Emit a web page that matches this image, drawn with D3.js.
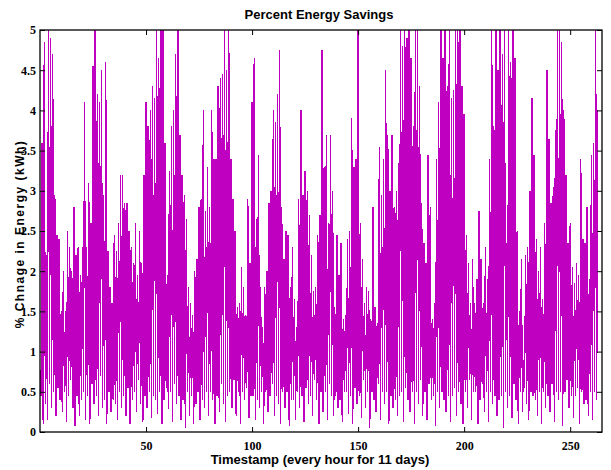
<!DOCTYPE html>
<html>
<head>
<meta charset="utf-8">
<script src="https://cdn.jsdelivr.net/npm/d3@7/dist/d3.min.js"></script>
<style>
  html, body { margin: 0; padding: 0; background: #fff; }
  svg { display: block; }
</style>
</head>
<body>
<div id="chart"></div>
<script>
// peak value read for each hour (1..263), values above 5 get clipped by the axes
const hourPeaks = [
  3.6, 4.85, 2.2, 5.2, 4.9, 4.7, 2.95, 2.45, 2.4, 1.5,
  2.0, 1.5, 2.5, 2.3, 2.0, 2.8, 2.2, 2.3, 1.95, 2.3,
  4.1, 2.3, 3.1, 2.6, 4.55, 5.2, 4.2, 4.1, 4.5, 2.95,
  4.6, 2.25, 1.8, 1.6, 2.45, 2.25, 2.6, 3.2, 3.2, 2.85,
  2.85, 2.5, 2.3, 2.1, 2.6, 1.95, 2.5, 2.1, 3.2, 4.1,
  3.8, 4.0, 4.3, 4.15, 5.2, 4.65, 5.2, 5.2, 3.6, 1.95,
  3.25, 3.8, 4.0, 4.7, 5.2, 3.7, 3.2, 2.95, 2.65, 1.8,
  1.6, 1.45, 2.0, 2.15, 2.8, 2.9, 4.0, 2.75, 3.3, 2.8,
  4.0, 3.4, 3.4, 4.3, 4.4, 4.45, 5.2, 4.5, 5.2, 3.4,
  2.9, 2.5, 1.55, 1.6, 2.05, 1.8, 1.45, 2.9, 2.1, 4.1,
  4.65, 2.65, 3.45, 1.8, 1.3, 1.8, 2.0, 2.85, 3.0, 4.0,
  3.85, 4.2, 4.75, 2.8, 2.15, 2.5, 2.45, 1.8, 2.3, 1.65,
  1.3, 2.9, 4.0, 2.95, 3.25, 3.0, 2.7, 2.2, 1.75, 1.8,
  2.45, 2.7, 4.75, 3.3, 3.7, 2.6, 3.7, 3.0, 1.55, 2.45,
  1.95, 2.35, 1.4, 1.45, 2.4, 2.5, 3.9, 3.3, 3.4, 5.2,
  2.6, 2.15, 1.6, 1.8, 1.75, 1.4, 2.8, 1.55, 1.35, 3.55,
  2.95, 3.4, 4.5, 3.7, 3.0, 3.7, 2.8, 3.0, 3.35, 5.2,
  4.8, 5.2, 4.9, 5.2, 4.65, 3.8, 5.2, 5.2, 4.3, 2.85,
  2.35, 2.1, 3.45, 2.8, 1.4, 1.6, 3.4, 4.1, 5.2, 4.65,
  5.2, 4.3, 5.2, 4.15, 4.25, 5.2, 5.2, 5.2, 4.3, 3.95,
  2.45, 2.1, 1.6, 2.15, 1.6, 1.9, 2.75, 2.15, 1.6, 2.3,
  1.9, 3.4, 5.2, 3.8, 5.2, 4.5, 5.2, 4.7, 5.2, 2.35,
  5.2, 4.6, 5.2, 4.65, 2.5, 1.5, 2.15, 0.9, 2.2, 2.3,
  3.0, 4.15, 3.45, 2.4, 2.0, 2.3, 1.65, 2.6, 4.5, 3.65,
  2.85, 3.05, 3.75, 5.2, 5.2, 4.85, 4.0, 3.2, 2.35, 2.6,
  2.05, 1.85, 2.1, 1.95, 3.4, 2.4, 2.35, 2.8, 1.9, 3.45,
  3.6, 5.2, 4.0
];

// dips read between the hours (half-hour samples)
const halfHourDips = [
  0.45, 0.1, 0.35, 0.15, 0.6, 0.3, 0.5, 0.2, 0.55, 0.4,
  0.25, 0.5, 0.12, 0.45, 0.65, 0.3, 0.08, 0.45, 0.2, 0.4,
  0.5, 0.15, 0.45, 0.1, 0.6, 0.35, 0.45, 0.2, 0.7, 0.3,
  0.4, 0.1, 0.5, 0.25, 0.4, 0.35, 0.15, 0.5, 0.3, 0.45,
  0.2, 0.55, 0.1, 0.4, 0.5, 0.25, 0.65, 0.35, 0.12, 0.45,
  0.3, 0.5, 0.18, 0.45, 0.4, 0.22, 0.5, 0.1, 0.4, 0.55,
  0.28, 0.5, 0.12, 0.6, 0.35, 0.45, 0.15, 0.4, 0.05, 0.5,
  0.2, 0.45, 0.1, 0.35, 0.5, 0.15, 0.4, 0.3, 0.5, 0.2,
  0.5, 0.4, 0.1, 0.45, 0.25, 0.6, 0.35, 0.12, 0.45, 0.5,
  0.3, 0.65, 0.2, 0.5, 0.1, 0.5, 0.4, 0.55, 0.18, 0.45,
  0.45, 0.15, 0.4, 0.3, 0.5, 0.1, 0.5, 0.25, 0.45, 0.6,
  0.2, 0.45, 0.35, 0.1, 0.5, 0.3, 0.5, 0.08, 0.4, 0.4,
  0.15, 0.5, 0.3, 0.45, 0.12, 0.55, 0.35, 0.45, 0.2, 0.65,
  0.4, 0.1, 0.5, 0.25, 0.5, 0.15, 0.6, 0.45, 0.2, 0.45,
  0.3, 0.4, 0.12, 0.5, 0.5, 0.22, 0.45, 0.1, 0.55, 0.35,
  0.45, 0.18, 0.65, 0.3, 0.5, 0.05, 0.5, 0.4, 0.25, 0.6,
  0.15, 0.5, 0.35, 0.5, 0.1, 0.45, 0.3, 0.4, 0.2, 0.45,
  0.5, 0.12, 0.55, 0.4, 0.25, 0.5, 0.1, 0.5, 0.35, 0.65,
  0.2, 0.5, 0.15, 0.6, 0.4, 0.45, 0.08, 0.5, 0.3, 0.5,
  0.4, 0.25, 0.45, 0.12, 0.45, 0.55, 0.2, 0.5, 0.35, 0.1,
  0.5, 0.3, 0.65, 0.15, 0.5, 0.5, 0.1, 0.4, 0.6, 0.25,
  0.5, 0.12, 0.5, 0.35, 0.45, 0.2, 0.4, 0.45, 0.05, 0.5,
  0.3, 0.45, 0.18, 0.6, 0.4, 0.1, 0.5, 0.25, 0.55, 0.35,
  0.15, 0.5, 0.45, 0.4, 0.2, 0.5, 0.1, 0.5, 0.3, 0.45,
  0.25, 0.6, 0.12, 0.5, 0.4, 0.5, 0.08, 0.5, 0.65, 0.3,
  0.45, 0.18, 0.45, 0.55, 0.1, 0.5, 0.35, 0.4, 0.2, 0.5,
  0.15, 0.5, 0.4
];

const xTicks = [50, 100, 150, 200, 250];
const yTicks = [0, 0.5, 1, 1.5, 2, 2.5, 3, 3.5, 4, 4.5, 5];

// series: dip at h-0.5, peak at h
const series = [];
hourPeaks.forEach((p, i) => {
  series.push({ x: i + 0.5, y: halfHourDips[i] });
  series.push({ x: i + 1, y: p });
});

const width = 611, height = 470;
const margin = { top: 30, right: 9, bottom: 38, left: 40 };
const innerW = width - margin.left - margin.right;
const innerH = height - margin.top - margin.bottom;

const svg = d3.select("#chart").append("svg")
  .attr("width", width)
  .attr("height", height);

const x = d3.scaleLinear().domain([0, 265]).range([0, innerW]);
const y = d3.scaleLinear().domain([0, 5]).range([innerH, 0]);

const g = svg.append("g")
  .attr("transform", `translate(${margin.left},${margin.top})`);

g.append("clipPath").attr("id", "plot-clip")
  .append("rect").attr("width", innerW).attr("height", innerH);

g.append("path")
  .datum(series)
  .attr("clip-path", "url(#plot-clip)")
  .attr("fill", "none")
  .attr("stroke", "#c000c0")
  .attr("stroke-width", 1.3)
  .attr("shape-rendering", "crispEdges")
  .attr("d", d3.line().x(d => x(d.x)).y(d => y(d.y)));

// inward ticks on all four sides
const tickFont = "'Liberation Serif', 'Times New Roman', serif";

const axisB = g.append("g").attr("transform", `translate(0,${innerH})`)
  .call(d3.axisBottom(x).tickValues(xTicks).tickSizeInner(-5).tickSizeOuter(0).tickPadding(9));
const axisT = g.append("g")
  .call(d3.axisTop(x).tickValues(xTicks).tickSizeInner(-5).tickSizeOuter(0).tickFormat(""));
const axisL = g.append("g")
  .call(d3.axisLeft(y).tickValues(yTicks).tickSizeInner(-5).tickSizeOuter(0).tickPadding(3).tickFormat(d3.format("")));
const axisR = g.append("g").attr("transform", `translate(${innerW},0)`)
  .call(d3.axisRight(y).tickValues(yTicks).tickSizeInner(-5).tickSizeOuter(0).tickFormat(""));

[axisB, axisT, axisL, axisR].forEach(a => {
  a.select(".domain").remove();
  a.selectAll(".tick line").attr("stroke", "#000").attr("stroke-width", 1);
  a.selectAll("text")
    .attr("font-family", tickFont)
    .attr("font-weight", "bold")
    .attr("font-size", "12px")
    .attr("fill", "#000");
});
axisL.selectAll("text").attr("dx", "-1");

g.append("rect")
  .attr("width", innerW).attr("height", innerH)
  .attr("fill", "none").attr("stroke", "#000").attr("stroke-width", 1.3);

const labelFont = "'Liberation Sans Narrow', 'Arial Narrow', 'Liberation Sans', sans-serif";

svg.append("text")
  .attr("x", 319).attr("y", 19)
  .attr("text-anchor", "middle")
  .attr("font-family", labelFont)
  .attr("font-weight", "bold")
  .attr("font-size", "13px")
  .text("Percent Energy Savings");

svg.append("text")
  .attr("x", 320).attr("y", 464)
  .attr("text-anchor", "middle")
  .attr("font-family", labelFont)
  .attr("font-weight", "bold")
  .attr("font-size", "13px")
  .text("Timestamp (every hour for 11 days)");

svg.append("text")
  .attr("transform", "translate(24,234) rotate(-90)")
  .attr("text-anchor", "middle")
  .attr("font-family", labelFont)
  .attr("font-weight", "bold")
  .attr("font-size", "12px")
  .attr("letter-spacing", "1.5px")
  .text("% Chnage in Energy (kWh)");
</script>
</body>
</html>
